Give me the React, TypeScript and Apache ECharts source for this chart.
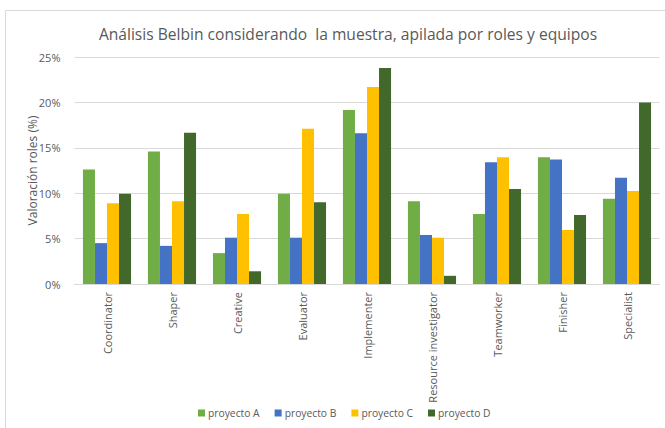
import React, { useEffect, useRef } from "react";
import * as echarts from "echarts";

const categories = [
  "Coordinator",
  "Shaper",
  "Creative",
  "Evaluator",
  "Implementer",
  "Resource investigator",
  "Teamworker",
  "Finisher",
  "Specialist",
];
const seriesNames = ["proyecto A", "proyecto B", "proyecto C", "proyecto D"];
const proyectoA = [12.6, 14.6, 3.4, 9.95, 19.15, 9.1, 7.7, 13.95, 9.4];
const proyectoB = [4.5, 4.2, 5.1, 5.1, 16.6, 5.4, 13.4, 13.7, 11.7];
const proyectoC = [8.9, 9.1, 7.7, 17.1, 21.7, 5.1, 13.95, 5.95, 10.25];
const proyectoD = [9.95, 16.65, 1.4, 9.0, 23.8, 0.9, 10.45, 7.6, 20.0];
const colors = ["#70ad47", "#4472c4", "#ffc000", "#43682b"];

export default function App() {
  const ref = useRef<HTMLDivElement>(null);
  useEffect(() => {
    if (!ref.current) return;
    const chart = echarts.init(ref.current, null, { renderer: "svg" });
    const data = [proyectoA, proyectoB, proyectoC, proyectoD];
    chart.setOption({
      animation: false,
      textStyle: { fontFamily: "Open Sans" },
      title: {
        text: "Análisis Belbin considerando  la muestra, apilada por roles y equipos",
        left: 343,
        textAlign: "center",
        top: 21,
        textStyle: { fontSize: 15.6, fontWeight: "normal", color: "#595959", fontFamily: "Open Sans" },
      },
      graphic: [
        {
          type: "rect",
          shape: { x: 5.5, y: 10.5, width: 680, height: 430 },
          style: { fill: "none", stroke: "#d9d9d9", lineWidth: 1 },
          silent: true,
        },
      ],
      legend: {
        bottom: 5,
        left: 193,
        itemWidth: 7,
        itemHeight: 7,
        itemGap: 15,
        icon: "rect",
        textStyle: { fontSize: 10.3, color: "#595959", fontFamily: "Open Sans", padding: [0, 0, 0, -2] },
        data: seriesNames,
      },
      grid: { left: 74.5, right: 5.5, top: 57, bottom: 144 },
      xAxis: {
        type: "category",
        data: categories,
        axisLine: { lineStyle: { color: "#d9d9d9" } },
        axisTick: { show: false },
        axisLabel: { rotate: 90, color: "#595959", fontSize: 11, margin: 8, interval: 0 },
      },
      yAxis: {
        type: "value",
        min: 0,
        max: 25,
        interval: 5,
        name: "Valoración roles (%)",
        nameLocation: "middle",
        nameGap: 36,
        nameMoveOverlap: false,
        nameTextStyle: { color: "#595959", fontSize: 12 },
        axisLabel: { formatter: "{value}%", color: "#595959", fontSize: 11, margin: 14 },
        splitLine: { lineStyle: { color: "#d9d9d9" } },
        axisLine: { show: false },
        axisTick: { show: false },
      },
      series: seriesNames.map((name, i) => ({
        name,
        type: "bar",
        data: data[i],
        itemStyle: { color: colors[i] },
        barGap: "0%",
        barCategoryGap: "26%",
      })),
    });
    return () => chart.dispose();
  }, []);
  return (
    <div
      ref={ref}
      style={{ position: "absolute", left: 0, top: 0, width: 665, height: 428 }}
    />
  );
}
